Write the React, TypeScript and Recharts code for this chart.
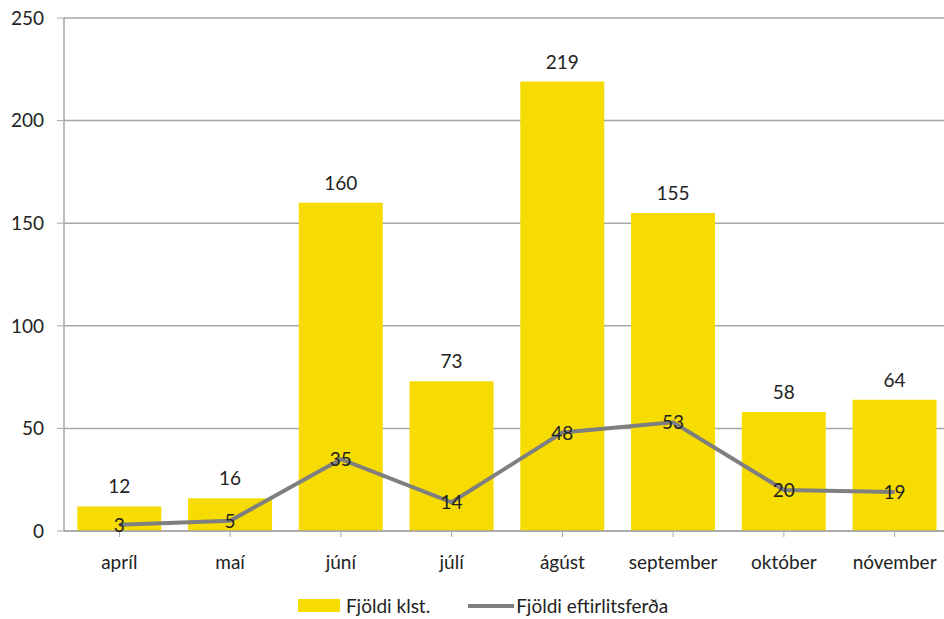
import { Bar, CartesianGrid, ComposedChart, LabelList, Legend, Line, XAxis, YAxis } from "recharts";

const months = ["apríl", "maí", "júní", "júlí", "ágúst", "september", "október", "nóvember"];
const hours = [12, 16, 160, 73, 219, 155, 58, 64];
const trips = [3, 5, 35, 14, 48, 53, 20, 19];
const yTicks = [0, 50, 100, 150, 200, 250];

const data = months.map((m, i) => ({ month: m, hours: hours[i], trips: trips[i] }));

const FONT = "Lato, 'Open Sans', sans-serif";
const YELLOW = "#F6DC00";
const GRAY = "#7F7F7F";

function LegendContent() {
  return (
    <div style={{ display: "flex", justifyContent: "center", alignItems: "center", fontFamily: FONT, fontSize: 19, color: "#222", paddingLeft: 16 }}>
      <span style={{ display: "inline-block", width: 42, height: 13, background: YELLOW, marginRight: 6 }} />
      <span style={{ marginRight: 38 }}>Fjöldi klst.</span>
      <span style={{ display: "inline-block", width: 46, height: 4, background: GRAY, marginRight: 2 }} />
      <span>Fjöldi eftirlitsferða</span>
    </div>
  );
}

export default function App() {
  return (
    <div style={{ position: "absolute", left: 0, top: 0, width: 944, height: 619, overflow: "hidden", background: "#fff" }}>
      <ComposedChart
        width={950}
        height={619}
        data={data}
        margin={{ top: 18, right: 0, left: 0, bottom: 1 }}
        barCategoryGap="12%"
      >
        <CartesianGrid vertical={false} stroke="#A6A6A6" strokeWidth={1.5} />
        <XAxis
          dataKey="month"
          tickLine={{ stroke: "#A6A6A6" }}
          axisLine={{ stroke: "#A6A6A6", strokeWidth: 1.5 }}
          tickSize={6}
          tickMargin={19}
          height={63}
          interval={0}
          tick={{ fontFamily: FONT, fontSize: 19, fill: "#222" }}
        />
        <YAxis
          domain={[0, 250]}
          ticks={yTicks}
          width={64}
          tickSize={7}
          tickMargin={13}
          tickLine={{ stroke: "#A6A6A6" }}
          axisLine={{ stroke: "#A6A6A6", strokeWidth: 1.5 }}
          tick={{ fontFamily: FONT, fontSize: 19, fill: "#222" }}
        />
        <Legend verticalAlign="bottom" height={24} content={<LegendContent />} />
        <Bar dataKey="hours" fill={YELLOW} isAnimationActive={false}>
          <LabelList dataKey="hours" position="top" offset={13} style={{ fontFamily: FONT, fontSize: 19, fill: "#222" }} />
        </Bar>
        <Line
          dataKey="trips"
          stroke={GRAY}
          strokeWidth={4}
          dot={false}
          type="linear"
          isAnimationActive={false}
        >
          <LabelList
            dataKey="trips"
            content={(p: any) => (
              <text x={p.x} y={p.y} dy={7} textAnchor="middle" fontFamily={FONT} fontSize={19} fill="#222">
                {p.value}
              </text>
            )}
          />
        </Line>
      </ComposedChart>
    </div>
  );
}
